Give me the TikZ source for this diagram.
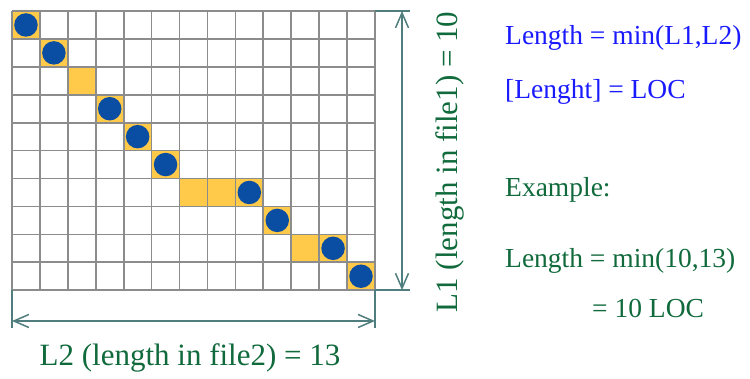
\documentclass[tikz,border=0pt]{standalone}
\usepackage{fontspec}
\setmainfont{Liberation Serif}
\usetikzlibrary{arrows.meta}
\definecolor{gridgray}{HTML}{8C8C8C}
\definecolor{cellorange}{HTML}{FFC94A}
\definecolor{dotblue}{HTML}{0A4EA3}
\definecolor{dimteal}{HTML}{507D7D}
\definecolor{txtgreen}{HTML}{106A3C}
\definecolor{txtblue}{HTML}{1A1AFF}
\tikzset{
  hl/.style={fill=cellorange,draw=none},
  matchdot/.style={circle,fill=dotblue,draw=none,minimum size=23.5pt,inner sep=0pt},
  dimline/.style={draw=dimteal,line width=1.5pt},
  dimarrow/.style={dimline,{Straight Barb[length=15pt,width=13pt,line width=1.5pt]}-{Straight Barb[length=15pt,width=13pt,line width=1.5pt]}},
  biglabel/.style={text=txtgreen,font=\fontsize{31}{36}\selectfont,inner sep=0pt},
  sidetext/.style={font=\fontsize{27.5}{32}\selectfont,inner sep=0pt,anchor=base west},
}
\begin{document}
\begin{tikzpicture}[x=1pt,y=-1pt]
\useasboundingbox (0,0) rectangle (750,379);
\def\cs{27.92}
\def\gx{12}
\def\gy{11}
% highlighted cells (col,row)
\foreach \c/\r in {0/0,1/1,2/2,3/3,4/4,5/5,6/6,7/6,8/6,9/7,10/8,11/8,12/9}
  \fill[cellorange] ({\gx+\c*\cs},{\gy+\r*\cs}) rectangle ++(\cs,\cs);
% grid
\foreach \i in {0,...,13}
  \draw[gridgray,line width=1.7pt] ({\gx+\i*\cs},\gy) -- ({\gx+\i*\cs},{\gy+10*\cs});
\foreach \j in {0,...,10}
  \draw[gridgray,line width=1.7pt] (\gx,{\gy+\j*\cs}) -- ({\gx+13*\cs},{\gy+\j*\cs});
% dots
\foreach \c/\r [count=\k] in {0/0,1/1,3/3,4/4,5/5,8/6,9/7,11/8,12/9}
  \node[matchdot] (d\k) at ({\gx+(\c+0.5)*\cs},{\gy+(\r+0.5)*\cs}) {};
% dimension coordinates
\coordinate (tr) at ({\gx+13*\cs},\gy);
\coordinate (br) at ({\gx+13*\cs},{\gy+10*\cs});
\coordinate (bl) at (\gx,{\gy+10*\cs});
\coordinate (trx) at (410,\gy);
\coordinate (brx) at (410,{\gy+10*\cs});
\coordinate (va) at (402,\gy);
\coordinate (vb) at (402,{\gy+10*\cs});
\coordinate (blx) at (\gx,328);
\coordinate (bry) at ({\gx+13*\cs},328);
\coordinate (ha) at (\gx,321);
\coordinate (hb) at ({\gx+13*\cs},321);
\draw[dimline] (tr) -- (trx);
\draw[dimline] (br) -- (brx);
\draw[dimline] (bl) -- (blx);
\draw[dimline] (br) -- (bry);
\draw[dimarrow] (va) -- (vb);
\draw[dimarrow] (ha) -- (hb);
% labels
\node[biglabel,anchor=base] (l2) at (190,366) {L2 (length in file2) = 13};
\node[biglabel,anchor=base,rotate=90] (l1) at (457,162) {L1 (length in file1) = 10};
\node[sidetext,text=txtblue] (t1) at (505,45) {Length = min(L1,L2)};
\node[sidetext,text=txtblue] (t2) at (505,99) {[Lenght] = LOC};
\node[sidetext,text=txtgreen] (t3) at (505,197) {Example:};
\node[sidetext,text=txtgreen] (t4) at (505,268) {Length = min(10,13)};
\node[sidetext,text=txtgreen] (t5) at (592,318) {= 10 LOC};
\end{tikzpicture}
\end{document}
